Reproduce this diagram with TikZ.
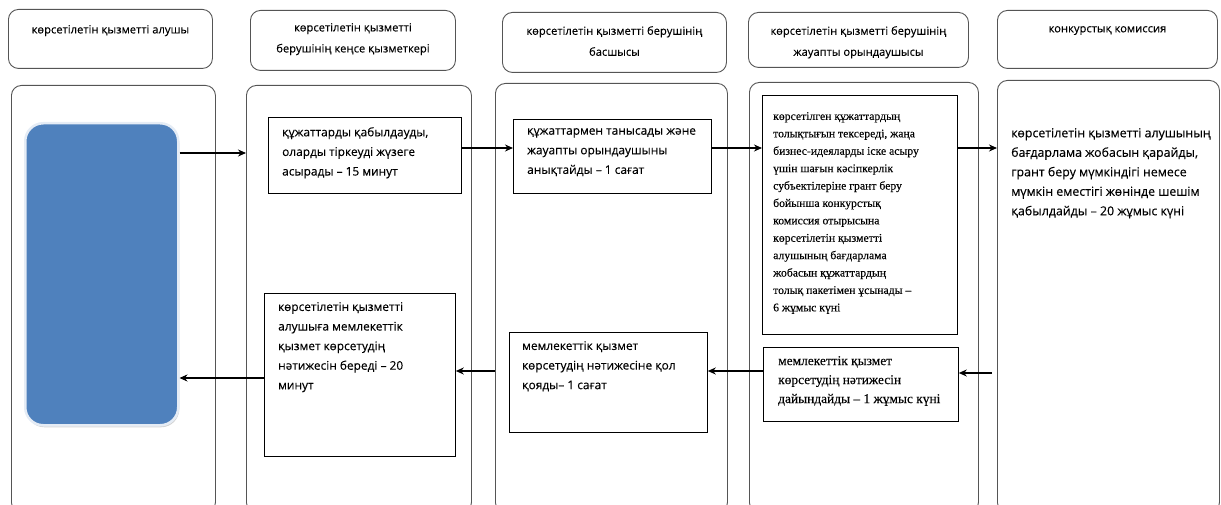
\documentclass[tikz,border=0pt]{standalone}
\usepackage{fontspec}
\setmainfont{Open Sans}[FakeBold=0.15]
\newfontfamily\serifkz{Liberation Serif}[FakeBold=0.15]
\usetikzlibrary{arrows.meta,positioning,shadows}
\definecolor{lanegray}{RGB}{85,85,85}
\definecolor{actorblue}{RGB}{79,129,189}

\begin{document}
\begin{tikzpicture}[x=1pt,y=-1pt,>=Stealth,
    lane/.style={draw=lanegray,line width=0.9pt,rounded corners=10pt,inner sep=0pt,anchor=north west},
    box/.style={draw=black,line width=0.8pt,inner sep=0pt,anchor=north west},
    htxt/.style={inner sep=0pt,align=center,font=\fontsize{11.2}{21}\selectfont},
    txt/.style={inner sep=0pt,align=left,font=\fontsize{11.9}{19.6}\selectfont},
    stxt/.style={inner sep=0pt,align=left,font=\serifkz\fontsize{11.7}{17.4}\selectfont},
    arr/.style={-{Stealth[length=8pt,width=7pt]},line width=1.1pt}]
  \useasboundingbox (0,0) rectangle (1221,505);
  % header boxes
  \node[lane,minimum width=204pt,minimum height=59pt] (h1) at (8,9) {};
  \node[lane,minimum width=205pt,minimum height=60pt] (h2) at (250,10) {};
  \node[lane,minimum width=224pt,minimum height=60pt] (h3) at (502,12) {};
  \node[lane,minimum width=220pt,minimum height=55pt] (h4) at (748,12) {};
  \node[lane,minimum width=220pt,minimum height=58pt] (h5) at (997,10) {};
  \node[htxt,below=16pt of h1.north] (h1t) {көрсетілетін қызметті алушы};
  \node[htxt,below=13pt of h2.north] (h2t) {көрсетілетін қызметті\\берушінің кеңсе қызметкері};
  \node[htxt,below=14pt of h3.north] (h3t) {көрсетілетін қызметті берушінің\\басшысы};
  \node[htxt,below=14pt of h4.north] (h4t) {көрсетілетін қызметті берушінің\\жауапты орындаушысы};
  \node[htxt,below=16pt of h5.north] (h5t) {конкурстық комиссия};
  % swim lanes
  \node[lane,minimum width=204pt,minimum height=427pt] (l1) at (11,85) {};
  \node[lane,minimum width=225pt,minimum height=427pt] (l2) at (246,85) {};
  \node[lane,minimum width=232pt,minimum height=429pt] (l3) at (495,83) {};
  \node[lane,minimum width=229pt,minimum height=430pt] (l4) at (749,82) {};
  \node[lane,minimum width=222pt,minimum height=432pt] (l5) at (997,80) {};
  % service receiver
  \node[anchor=north west,inner sep=0pt,minimum width=153pt,minimum height=302pt,
    fill=actorblue,draw=white!85!actorblue,line width=2.5pt,rounded corners=18pt,
    drop shadow={shadow xshift=1pt,shadow yshift=-2pt,opacity=0.35}] (blue) at (24,122) {};
  % steps
  \node[box,minimum width=193pt,minimum height=76pt] (b1) at (268,117) {};
  \node[box,minimum width=198pt,minimum height=74pt] (b2) at (513,119) {};
  \node[box,minimum width=195pt,minimum height=239pt] (b3) at (762,95) {};
  \node[box,minimum width=191pt,minimum height=163pt] (b4) at (264,293) {};
  \node[box,minimum width=198pt,minimum height=100pt] (b5) at (509,332) {};
  \node[box,minimum width=195pt,minimum height=74pt] (b6) at (763,347) {};
  \node[txt,below right=10pt and 14pt of b1.north west] (b1t)
    {құжаттарды қабылдауды,\\оларды тіркеуді жүзеге\\асырады – 15 минут};
  \node[txt,below right=9pt and 14pt of b2.north west] (b2t)
    {құжаттармен танысады және\\жауапты орындаушыны\\анықтайды – 1 сағат};
  \node[stxt,below right=17pt and 11pt of b3.north west] (b3t)
    {көрсетілген құжаттардың\\толықтығын тексереді, жаңа\\бизнес-идеяларды іске асыру\\үшін шағын кәсіпкерлік\\субъектілеріне грант беру\\бойынша конкурстық\\комиссия отырысына\\көрсетілетін қызметті\\алушының бағдарлама\\жобасын құжаттардың\\толық пакетімен ұсынады –\\6 жұмыс күні};
  \node[txt,font=\fontsize{12.4}{19.5}\selectfont,below right=48pt and 14pt of l5.north west] (l5t)
    {көрсетілетін қызметті алушының\\бағдарлама жобасын қарайды,\\грант беру мүмкіндігі немесе\\мүмкін еместігі жөнінде шешім\\қабылдайды – 20 жұмыс күні};
  \node[txt,below right=9pt and 14pt of b4.north west] (b4t)
    {көрсетілетін қызметті\\алушыға мемлекеттік\\қызмет көрсетудің\\нәтижесін береді – 20\\минут};
  \node[txt,below right=9pt and 13pt of b5.north west] (b5t)
    {мемлекеттік қызмет\\көрсетудің нәтижесіне қол\\қояды– 1 сағат};
  \node[stxt,font=\serifkz\fontsize{13.4}{19}\selectfont,below right=9pt and 15pt of b6.north west] (b6t)
    {мемлекеттік қызмет\\көрсетудің нәтижесін\\дайындайды – 1 жұмыс күні};
  % connectors
  \coordinate (rowa) at (0,153);
  \coordinate (rowb) at (0,148);
  \coordinate (rowc) at (0,371);
  \coordinate (rowd) at (0,378);
  \coordinate (in5) at (992,373);
  \draw[arr] (blue.east |- rowa) -- (l2.west |- rowa);
  \draw[arr,line width=2pt] (b1.east |- rowb) -- (b2.west |- rowb);
  \draw[arr] (b2.east |- rowb) -- (b3.west |- rowb);
  \draw[arr] (b3.east |- rowb) -- (l5.west |- rowb);
  \draw[arr] (in5) -- (b6.east |- in5);
  \draw[arr] (b6.west |- rowc) -- (b5.east |- rowc);
  \draw[arr] (l3.west |- rowc) -- (b4.east |- rowc);
  \draw[arr] (b4.west |- rowd) -- (blue.east |- rowd);
\end{tikzpicture}
\end{document}
